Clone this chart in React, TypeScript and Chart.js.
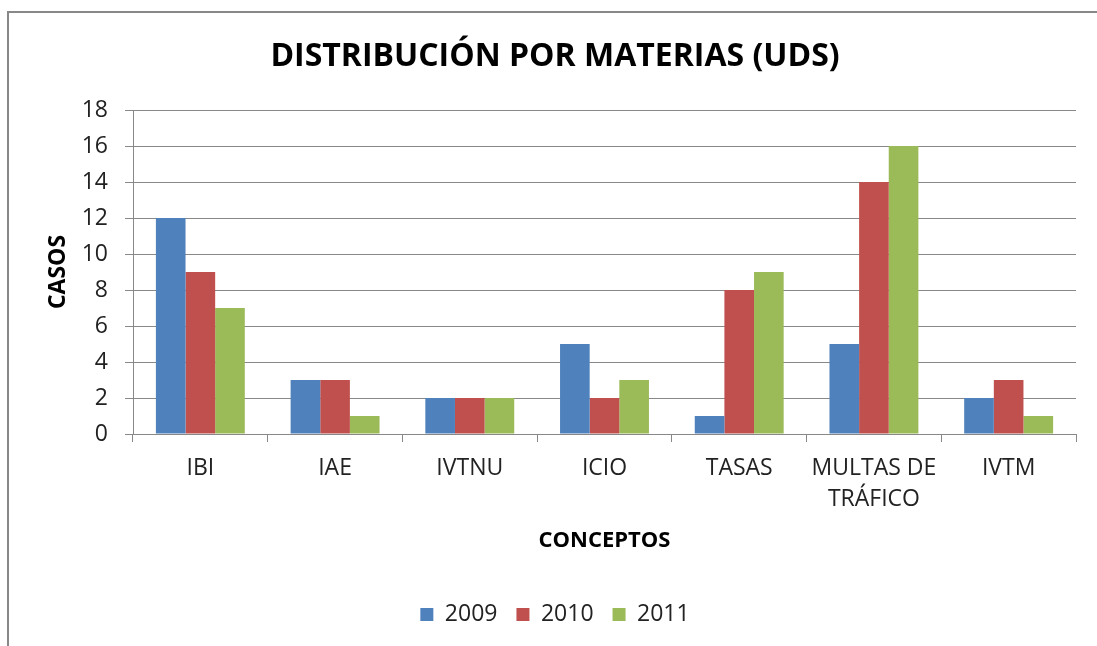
import React, { useEffect, useRef } from "react";
import { Chart, registerables } from "chart.js";

Chart.register(...registerables);

const categories: (string | string[])[] = ["IBI", "IAE", "IVTNU", "ICIO", "TASAS", ["MULTAS DE", "TRÁFICO"], "IVTM"];
const years = ["2009", "2010", "2011"];
const values2009 = [12, 3, 2, 5, 1, 5, 2];
const values2010 = [9, 3, 2, 2, 8, 14, 3];
const values2011 = [7, 1, 2, 3, 9, 16, 1];
const colors = ["#4F81BD", "#C0504D", "#9BBB59"];
const titleText = "DISTRIBUCIÓN POR MATERIAS (UDS)";
const yTitle = "CASOS";
const xTitle = "CONCEPTOS";

const FONT = "'Open Sans', sans-serif";

const framePlugin = {
  id: "frame",
  beforeDraw(chart: any) {
    const ctx = chart.ctx;
    ctx.save();
    ctx.fillStyle = "#ffffff";
    ctx.fillRect(0, 0, chart.width, chart.height);
    ctx.strokeStyle = "#888888";
    ctx.lineWidth = 2;
    ctx.strokeRect(8, 12, chart.width + 50, chart.height + 50);
    ctx.restore();
  },
};

export default function App() {
  const ref = useRef<HTMLCanvasElement>(null);
  useEffect(() => {
    document.body.style.margin = "0";
    const series = [values2009, values2010, values2011];
    const chart = new Chart(ref.current!, {
      type: "bar",
      data: {
        labels: categories,
        datasets: years.map((y, i) => ({
          label: y,
          data: series[i],
          backgroundColor: colors[i],
          borderWidth: 0,
          barPercentage: 1,
          categoryPercentage: 0.66,
        })),
      },
      plugins: [framePlugin],
      options: {
        animation: false,
        responsive: false,
        maintainAspectRatio: false,
        layout: { padding: { left: 34, right: 21, top: 0, bottom: 10 } },
        plugins: {
          title: {
            display: true,
            text: titleText,
            color: "#000000",
            font: { family: FONT, size: 32, weight: "bold", lineHeight: 1.2 },
            padding: { top: 38, bottom: 33.6 },
          },
          legend: {
            position: "bottom",
            labels: {
              boxWidth: 13,
              boxHeight: 13,
              padding: 19,
              color: "#222222",
              font: { family: FONT, size: 23 },
            },
          },
          tooltip: { enabled: false },
        },
        scales: {
          x: {
            grid: {
              display: true,
              drawOnChartArea: false,
              drawTicks: true,
              tickLength: 8,
              color: "#888888",
              offset: true,
            },
            border: { display: true, color: "#888888", width: 1 },
            ticks: {
              color: "#222222",
              padding: 10.5,
              maxRotation: 0,
              autoSkip: false,
              font: { family: FONT, size: 23, lineHeight: 1.35 },
            },
            title: {
              display: true,
              text: xTitle,
              color: "#000000",
              font: { family: FONT, size: 22, weight: "bold", lineHeight: 1.2 },
              padding: { top: 0, bottom: 29.8 },
            },
            afterFit(scale: any) {
              scale.height = 150;
            },
          },
          y: {
            min: 0,
            max: 18,
            ticks: {
              stepSize: 2,
              color: "#222222",
              padding: 17,
              font: { family: FONT, size: 23 },
            },
            grid: { color: "#888888", tickLength: 8, lineWidth: 1 },
            border: { display: true, color: "#888888", width: 1 },
            title: {
              display: true,
              text: yTitle,
              color: "#000000",
              font: { family: FONT, size: 23, weight: "bold", lineHeight: 1.2 },
              padding: { top: 11, bottom: 0 },
            },
            afterFit(scale: any) {
              scale.width = 99;
            },
          },
        },
      },
    });
    return () => chart.destroy();
  }, []);
  return <canvas ref={ref} width={1097} height={646} style={{ display: "block" }} />;
}
